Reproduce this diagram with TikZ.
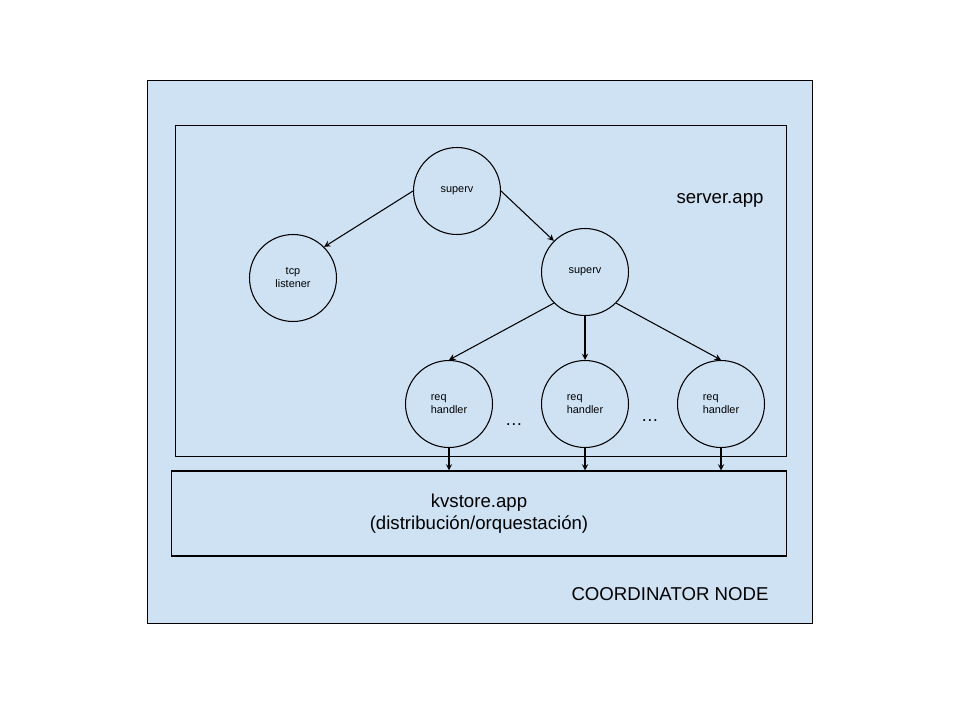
\documentclass[tikz,border=0pt]{standalone}
\usepackage{fontspec}
\setmainfont{Liberation Sans}
\usetikzlibrary{arrows}
\usetikzlibrary{positioning}
\definecolor{paleblue}{HTML}{CFE2F3}
\tikzset{x=0.02cm, y=-0.02cm,
every proc/.style={
circle,
draw,
line width=0.6pt,
fill=paleblue,
inner sep=0pt,
minimum size=1.74cm,
font=\fontsize{6.2}{7.4}\selectfont},
box/.style={
draw,
line width=0.6pt,
fill=paleblue,
inner sep=0pt},
every edge/.style={
draw,
->,
>=stealth,
line width=0.6pt}}

\begin{document}
\begin{tikzpicture}
\useasboundingbox (0,0) rectangle (960,720);
\node[box, minimum width=13.32cm, minimum height=10.88cm] (node) at (480,352) {};
\node[box, minimum width=12.24cm, minimum height=6.64cm] (srv) at (481,291) {};
\node[box, minimum width=12.32cm, minimum height=1.70cm, align=center,
      font=\fontsize{10.6}{12.6}\selectfont] (kv) at (479,513.5)
      {kvstore.app\\(distribución/orquestación)};
\node[font=\fontsize{10.6}{12.6}\selectfont] (srvlbl) at (720,200) {server.app};
\node[font=\fontsize{10.6}{12.6}\selectfont] (nodelbl) at (670,594) {COORDINATOR NODE};
\node[every proc] (1) at (457,191) {superv};
\node[every proc, align=center] (2) at (293,278) {tcp\\listener};
\node[every proc] (3) at (585,272) {superv};
\node[every proc, align=left] (4) at (449,404) {req\\handler};
\node[every proc, align=left] (5) at (585,404) {req\\handler};
\node[every proc, align=left] (6) at (721,404) {req\\handler};
\node (d1) at (514,425) {\dots};
\node (d2) at (650,421) {\dots};
\draw (1.west) edge (2.north east);
\draw (1.east) edge (3.north west);
\draw (3.south west) edge (4.north);
\draw (3.south) edge (5.north);
\draw (3.south east) edge (6.north);
\draw (4) edge (4 |- kv.north);
\draw (5) edge (5 |- kv.north);
\draw (6) edge (6 |- kv.north);
\end{tikzpicture}
\end{document}
